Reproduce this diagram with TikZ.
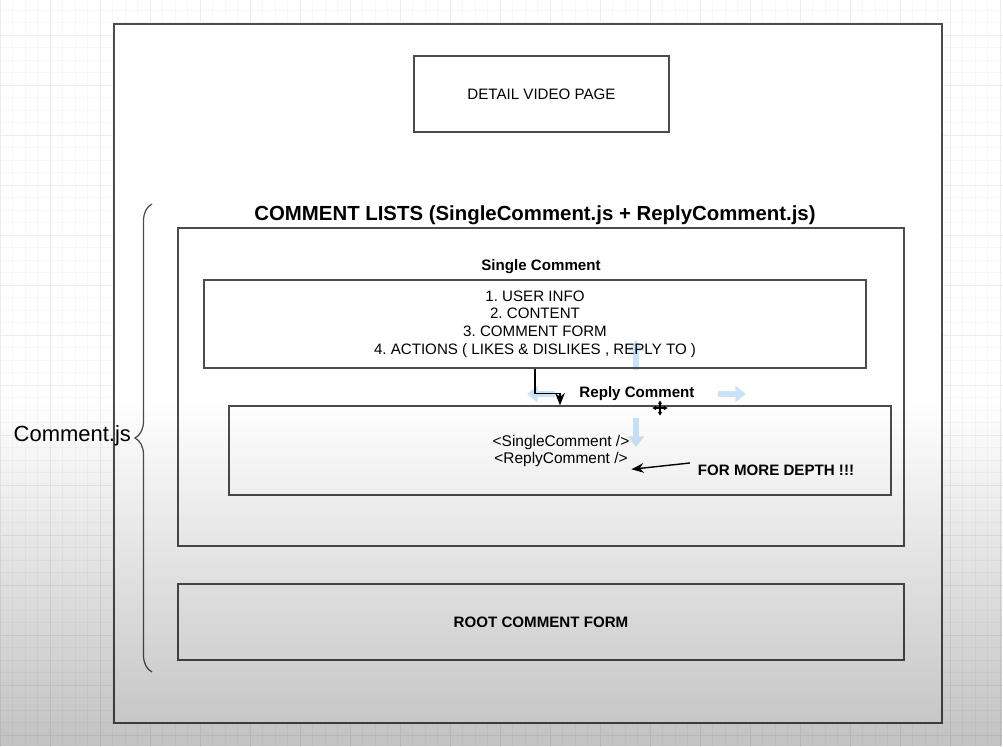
\documentclass[tikz,border=0pt]{standalone}
\usepackage{fontspec}
\setmainfont{Liberation Sans}
\usetikzlibrary{positioning,arrows.meta,decorations.pathreplacing,fadings}
\definecolor{hintblue}{RGB}{204,227,247}
\frenchspacing

\begin{document}
\begin{tikzpicture}[
		box/.style={draw=black!70, line width=0.8pt, inner sep=0pt},
		lbl/.style={font=\fontsize{8.6}{10}\selectfont, align=center, inner sep=1pt},
		blbl/.style={lbl, font=\fontsize{8.6}{10}\selectfont\bfseries},
		arr/.style={-{Stealth[length=7pt,width=5.5pt]}, line width=0.8pt},
		hint/.style={draw=hintblue, line width=3pt, -{Triangle[length=6pt,width=9pt]}},
		curly/.style={decorate, decoration={brace, amplitude=0.34cm}, draw=black!70, line width=0.7pt},
		cursor/.style={line width=0.7pt, {Stealth[length=2.2pt,width=2.6pt]}-{Stealth[length=2.2pt,width=2.6pt]}}
	]
		\useasboundingbox (0,0) rectangle (20.06,-14.92);
		\fill[white] (0,0) rectangle (20.06,-14.92);
		\begin{scope}
			\clip (0,0) rectangle (20.06,-14.92);
			\begin{scope}[yshift=0.30cm]
				\draw[black!3, line width=0.4pt, step=0.25] (0,-0.30) grid (20.06,-15.5);
				\draw[black!7, line width=0.5pt, step=1.0] (0,-0.30) grid (20.06,-15.5);
			\end{scope}
		\end{scope}

		\node[box, fill=white, line width=0.9pt, minimum width=16.56cm, minimum height=13.98cm] (page) at (10.56,-7.47) {};

		\coordinate (hov) at (12.72,-7.88);
		\draw[hint] ([yshift=0.48cm]hov) -- ++(0,0.6);
		\draw[hint] ([yshift=-0.48cm]hov) -- ++(0,-0.58);
		\draw[hint] ([xshift=-1.62cm]hov) -- ++(-0.56,0);
		\draw[hint] ([xshift=1.64cm]hov) -- ++(0.56,0);

		\node[box, lbl, minimum width=5.10cm, minimum height=1.52cm] (detail) at (10.83,-1.88) {DETAIL VIDEO PAGE};

		\node[font=\fontsize{11.6}{13}\selectfont\bfseries] (title) at (10.70,-4.30) {COMMENT LISTS (SingleComment.js + ReplyComment.js)};
		\node[box, minimum width=14.52cm, minimum height=6.36cm] (lists) at (10.82,-7.74) {};

		\node[blbl] (singlelbl) at (10.82,-5.34) {Single Comment};
		\node[box, lbl, minimum width=13.24cm, minimum height=1.76cm] (single) at (10.70,-6.48) {1. USER INFO\\2. CONTENT\\3. COMMENT FORM\\4. ACTIONS ( LIKES \& DISLIKES , REPLY TO )};

		\node[blbl] (replylbl) at (12.74,-7.88) {Reply Comment};
		\node[box, minimum width=13.24cm, minimum height=1.78cm] (reply) at (11.20,-9.01) {};
		\node[lbl, font=\fontsize{8.8}{10.2}\selectfont] (tags) at (11.22,-9.02) {<SingleComment />\\<ReplyComment />};
		\node[blbl] (depth) at (15.52,-9.40) {FOR MORE DEPTH !!!};

		\node[box, blbl, minimum width=14.52cm, minimum height=1.52cm] (root) at (10.82,-12.44) {ROOT COMMENT FORM};

		\draw[arr] (single.south) -- ++(0,-0.5) -| (reply.north);
		\draw[arr] (depth.west) ++(-0.12,0.14) -- (tags.south east);

		\coordinate (mv) at (13.20,-8.16);
		\draw[cursor] ([xshift=-0.15cm]mv) -- ([xshift=0.15cm]mv);
		\draw[cursor] ([yshift=-0.15cm]mv) -- ([yshift=0.15cm]mv);

		\draw[curly] (3.04,-13.44) -- (3.04,-4.08);
		\node[anchor=east, font=\fontsize{12.5}{14}\selectfont, inner sep=1pt] (cjs) at (2.66,-8.72) {Comment.js};

		\fill[black, opacity=0.24, path fading=north] (0,-8.0) rectangle (20.06,-14.92);
	\end{tikzpicture}
\end{document}
